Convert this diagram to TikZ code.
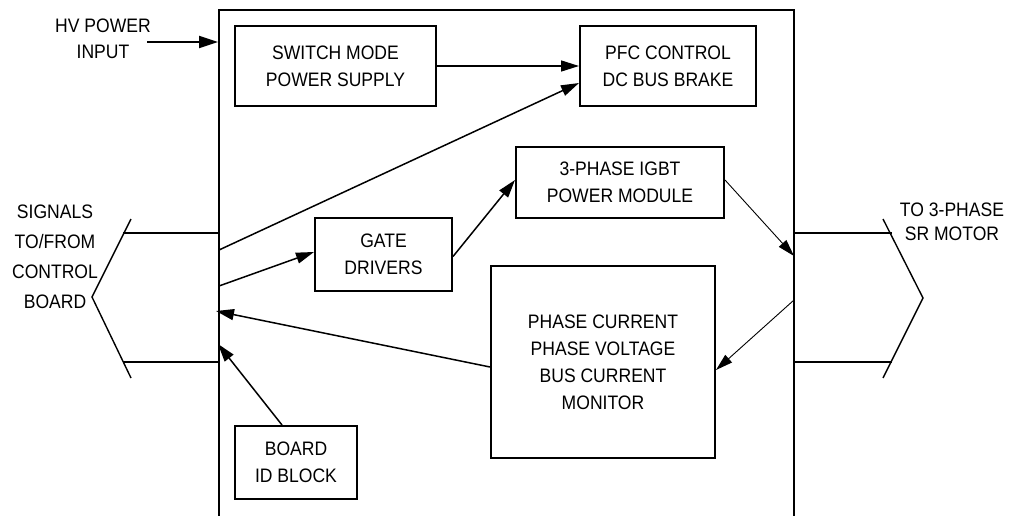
\documentclass[tikz,border=0pt]{standalone}
\usepackage{fontspec}
\setmainfont{Liberation Sans}[FakeStretch=0.9]
\usetikzlibrary{arrows.meta}
\begin{document}
\begin{tikzpicture}[x=1pt,y=-1pt,
  txt/.style={font=\fontsize{19.5}{27}\selectfont, align=center, inner sep=0pt},
  blk/.style={txt, draw, line width=2pt},
  thick arrow/.style={line width=1.5pt, -{Triangle[length=18pt,width=11pt]}},
  thin arrow/.style={line width=0.9pt, -{Triangle[length=17pt,width=10pt]}},
  wire/.style={line width=2pt},
  chev/.style={line width=1.4pt}]
\useasboundingbox (0,0) rectangle (1014,516);

% main board outline (open at the bottom)
\draw[wire] (219,516) -- (219,10) -- (794,10) -- (794,516);

% blocks
\node[blk, minimum width=201pt, minimum height=80pt] (smps) at (335.5,66) {SWITCH MODE\\POWER SUPPLY};
\node[blk, minimum width=176pt, minimum height=80pt] (pfc) at (668,66) {PFC CONTROL\\DC BUS BRAKE};
\node[blk, minimum width=208pt, minimum height=71pt] (igbt) at (620,182.5) {3-PHASE IGBT\\POWER MODULE};
\node[blk, minimum width=137pt, minimum height=73pt] (gate) at (383.5,254.5) {GATE\\DRIVERS};
\node[blk, minimum width=224pt, minimum height=192pt] (mon) at (603,362) {PHASE CURRENT\\PHASE VOLTAGE\\BUS CURRENT\\MONITOR};
\node[blk, minimum width=122pt, minimum height=73pt] (board) at (296,462.5) {BOARD\\ID BLOCK};

% outside labels
\node[txt, font=\fontsize{19.5}{26}\selectfont] (hv) at (103,39) {HV POWER\\INPUT};
\node[txt, font=\fontsize{19.5}{30}\selectfont] (sig) at (55,257) {SIGNALS\\TO/FROM\\CONTROL\\BOARD};
\node[txt, font=\fontsize{19.5}{24.5}\selectfont] (mot) at (952,222) {TO 3-PHASE\\SR MOTOR};

% points on the board outline
\coordinate (hvin) at (218,42);
\coordinate (hvs) at (147,42);
\coordinate (l1) at (219,250);
\coordinate (l2) at (219,286);
\coordinate (l3) at (216,311);
\coordinate (l4) at (218,344);
\coordinate (r1) at (794,256);
\coordinate (r2) at (794,300);

% connectors
\draw[line width=2pt, -{Triangle[length=19pt,width=12pt]}] (hvs) -- (hvin);
\draw[thick arrow] (smps.east) -- (pfc.west);
\draw[thick arrow] (l1) -- ([yshift=-17pt]pfc.west);
\draw[thick arrow] (l2) -- ([yshift=2.5pt]gate.west);
\draw[thick arrow] ([yshift=-2pt]gate.east) -- ([yshift=2.5pt]igbt.west);
\draw[thin arrow] ([yshift=2.5pt]igbt.east) -- (r1);
\draw[thin arrow] (r2) -- ([yshift=-8pt]mon.east);
\draw[thick arrow] ([yshift=-5pt]mon.west) -- (l3);
\draw[thick arrow] ([xshift=-14pt]board.north) -- (l4);

% left connector
\coordinate (la) at (123,233);
\coordinate (lb) at (123,362);
\coordinate (lc1) at (131,219);
\coordinate (lc2) at (92,297);
\coordinate (lc3) at (131,378);
\draw[wire] (la) -- (219,233);
\draw[wire] (lb) -- (219,362);
\draw[chev] (lc1) -- (lc2) -- (lc3);

% right connector
\coordinate (ra) at (892,233);
\coordinate (rb) at (892,362);
\coordinate (rc1) at (883,219);
\coordinate (rc2) at (923,298);
\coordinate (rc3) at (883,378);
\draw[wire] (794,233) -- (ra);
\draw[wire] (794,362) -- (rb);
\draw[chev] (rc1) -- (rc2) -- (rc3);
\end{tikzpicture}
\end{document}
